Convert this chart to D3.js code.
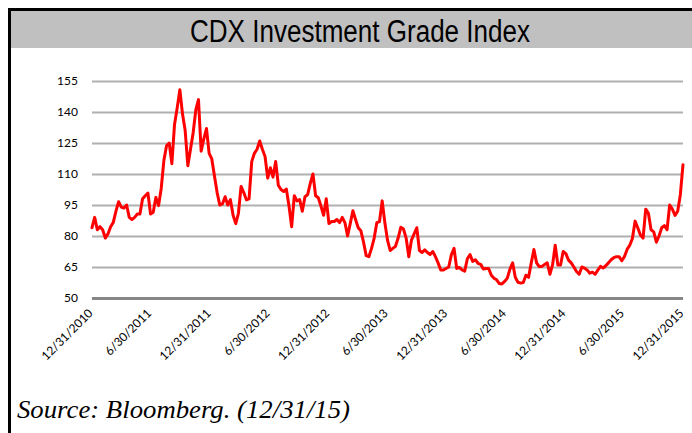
<!DOCTYPE html>
<html><head><meta charset="utf-8">
<script src="https://cdn.jsdelivr.net/npm/d3@7"></script>
<style>html,body{margin:0;padding:0;background:#fff;overflow:hidden}</style>
</head><body><svg id="c" width="692" height="433"></svg>
<script>
const chartTitle = "CDX Investment Grade Index";
const sourceNote = "Source: Bloomberg. (12/31/15)";
const startDate = "2010-12-31";
const endDate = "2015-12-31";
const xTickLabels = ["12/31/2010","6/30/2011","12/31/2011","6/30/2012","12/31/2012","6/30/2013",
  "12/31/2013","6/30/2014","12/31/2014","6/30/2015","12/31/2015"];
const yTicks = [50, 65, 80, 95, 110, 125, 140, 155];
// CDX IG spread (bp), evenly spaced observations from 12/31/2010 to 12/31/2015
const cdxValues = [
  84, 89, 83, 84.5, 83, 79, 81, 84.5, 86.6, 92,
  96.6, 94, 93.5, 95, 89, 88, 89, 90.6, 90.6, 98,
  99.5, 100.8, 90.6, 91.5, 98.7, 94.7, 103, 116.5, 123.7, 125,
  115, 134, 142, 150.8, 139, 131, 114, 122, 130, 141,
  146, 121, 127, 132, 120, 117.3, 109, 101, 95, 95.5,
  99, 95, 97.6, 90, 86, 91,
  104, 101, 97.5, 98, 116, 120, 122, 126, 122, 118.5,
  108, 113, 108.5, 116, 104.5, 102.5, 101.5, 102.7, 94.5, 84.5,
  99.5, 97, 97.6, 92, 99, 100, 105.5, 110, 99.5, 98.5,
  94.5, 90, 98, 86, 87, 87, 88, 86.5, 89, 86.5,
  80, 86, 92.2, 88, 84, 82.5, 77, 70.5, 70, 74,
  79, 86.5, 87, 97, 86.5, 78,
  73, 74, 75, 79, 84.2, 83.4, 79, 70, 78, 81,
  84, 73, 72, 73.3, 72, 71, 72.5, 70, 67, 63.5,
  63.5, 64.3, 65, 71, 74, 64.3, 64.8, 63.6, 63, 69,
  71, 67.7, 68.5, 66.8, 66.3, 64, 64.3, 64.3, 61, 59.6,
  58.8, 57, 56.8, 58, 59.6, 64, 67, 60, 57.6, 57.2,
  57.5, 61, 60, 67, 73.5, 67,
  65.2, 65.3, 66.2, 67, 61.5, 66, 75.5, 66, 66, 72.5,
  71.5, 68.3, 67, 65, 62.8, 61.5, 65, 64.5, 63.5, 62,
  62.5, 61.5, 63.5, 65.3, 64.5, 65.6, 67, 68.5, 69.5, 70,
  70, 68, 70, 73.5, 75.5, 78.8, 87.2, 84, 80.5, 79,
  93, 91, 83, 82, 77, 80, 84, 85, 83, 95,
  93, 90, 92, 100, 114.5
];

const svg = d3.select("#c");
const parse = d3.timeParse("%Y-%m-%d");
const parseTick = d3.timeParse("%m/%d/%Y");
const t0 = parse(startDate), t1 = parse(endDate);
const n = cdxValues.length;
const data = cdxValues.map((v, i) => ({date: new Date(+t0 + (t1 - t0) * i / (n - 1)), value: v}));

const x = d3.scaleTime().domain([t0, t1]).range([92, 683]);
const y = d3.scaleLinear().domain([50, 155]).range([298, 81]);

// frame
svg.append("rect").attr("x", 0).attr("y", 0).attr("width", 692).attr("height", 433).attr("fill", "#fff");
svg.append("rect").attr("x", 11).attr("y", 11).attr("width", 681).attr("height", 37).attr("fill", "#c0c0c0");
svg.append("rect").attr("x", 8).attr("y", 8).attr("width", 684).attr("height", 3).attr("fill", "#000");
svg.append("rect").attr("x", 8).attr("y", 8).attr("width", 3).attr("height", 425).attr("fill", "#000");

svg.append("text").attr("x", 360).attr("y", 42).attr("text-anchor", "middle")
  .attr("font-family", "'Liberation Sans Narrow','Arial Narrow','Liberation Sans',sans-serif")
  .attr("font-size", 31).attr("fill", "#000")
  .attr("textLength", 340).attr("lengthAdjust", "spacingAndGlyphs")
  .text(chartTitle);

// y axis with gridlines
const yAxis = svg.append("g").attr("transform", "translate(92,0)")
  .call(d3.axisLeft(y).tickValues(yTicks).tickSize(-591).tickPadding(14));
yAxis.select(".domain").remove();
yAxis.selectAll(".tick line")
  .attr("stroke", d => d === 50 ? "#868686" : "#b0b0b0")
  .attr("stroke-width", d => d === 50 ? 3 : 2);
yAxis.selectAll(".tick text")
  .attr("font-family", "Lato, 'Open Sans', sans-serif").attr("font-size", 12).attr("fill", "#000");

// x axis
const xAxis = svg.append("g").attr("transform", "translate(0,298)")
  .call(d3.axisBottom(x).tickValues(xTickLabels.map(parseTick)).tickSize(0)
    .tickFormat((d, i) => xTickLabels[i]));
xAxis.select(".domain").remove();
xAxis.selectAll(".tick text")
  .attr("x", 0).attr("y", 0).attr("dy", 0)
  .attr("text-anchor", "end")
  .attr("transform", "translate(1,16) rotate(-45)")
  .attr("font-family", "Lato, 'Open Sans', sans-serif").attr("font-size", 12).attr("fill", "#000");

// line
const line = d3.line().x(d => x(d.date)).y(d => y(d.value));
svg.append("path").datum(data).attr("d", line)
  .attr("fill", "none").attr("stroke", "#ff0000").attr("stroke-width", 3)
  .attr("stroke-linejoin", "round").attr("stroke-linecap", "round");

svg.append("text").attr("x", 17).attr("y", 418)
  .attr("font-family", "'Liberation Serif','Times New Roman',serif")
  .attr("font-style", "italic").attr("font-size", 26).attr("fill", "#000")
  .attr("textLength", 333).attr("lengthAdjust", "spacingAndGlyphs")
  .text(sourceNote);
</script></body></html>
